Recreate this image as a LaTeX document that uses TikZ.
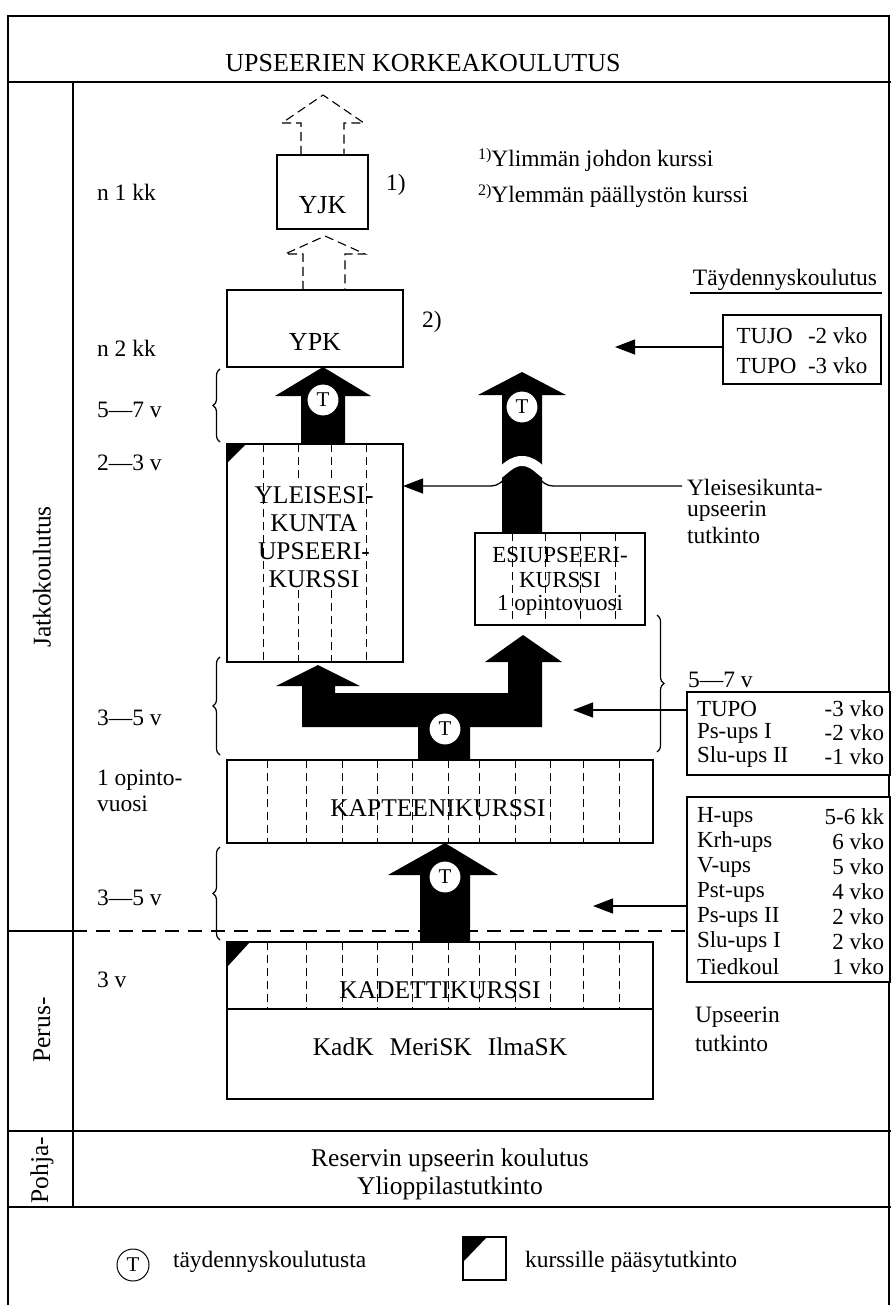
\documentclass[tikz,border=0pt]{standalone}
\usepackage{fontspec}
\setmainfont{Liberation Serif}
\usetikzlibrary{arrows.meta,decorations.pathreplacing}
\begin{document}
\begin{tikzpicture}[x=1pt,y=-1pt,
  every node/.style={inner sep=0pt, outer sep=0pt},
  txt/.style={font=\fontsize{25.5}{29}\selectfont},
  small/.style={font=\fontsize{23}{25}\selectfont},
  big/.style={font=\fontsize{26}{30}\selectfont},
  lbl/.style={font=\fontsize{23.5}{27}\selectfont, anchor=west},
  row/.style={font=\fontsize{23}{26}\selectfont, anchor=west},
  val/.style={font=\fontsize{23}{26}\selectfont, anchor=east},
  box/.style={draw, line width=1.3pt, fill=white},
  frame/.style={line width=1.3pt},
  dl/.style={dash pattern=on 8pt off 5pt, line width=1pt},
  dashedarrow/.style={dash pattern=on 9pt off 5pt, line width=1.1pt},
  fat/.style={fill=black},
  tc/.style={circle, draw, line width=1pt, fill=white, minimum size=32pt, font=\fontsize{21}{21}\selectfont},
  arr/.style={line width=1.3pt, -{Triangle[length=20pt,width=15pt]}},
  brc/.style={decorate, decoration={brace, amplitude=7pt}, line width=1.2pt},
  flag/.style={fill=black}
]
\useasboundingbox (0,0) rectangle (891,1305);

% frame
\draw[frame] (8,1305) -- (8,16) -- (889,16) -- (889,1305);
\draw[frame] (8,82) -- (891,82);
\draw[frame] (73,82) -- (73,1207);
\draw[frame] (8,931) -- (73,931);
\draw[frame] (8,1131) -- (891,1131);
\draw[frame] (8,1207) -- (891,1207);
\draw[dash pattern=on 14pt off 9pt, line width=1.4pt] (73,931) -- (687,931);

\node[big] (title) at (423,63) {UPSEERIEN KORKEAKOULUTUS};

% left column
\node[txt, rotate=90] (jk) at (42,577) {Jatkokoulutus};
\node[txt, rotate=90] (pe) at (42,1030) {Perus-};
\node[txt, rotate=90] (po) at (42,1170) {Pohja-};

\node[lbl] (l1) at (97,192) {n 1 kk};
\node[lbl] (l2) at (97,348) {n 2 kk};
\node[lbl] (l3) at (97,410) {5—7 v};
\node[lbl] (l4) at (97,463) {2—3 v};
\node[lbl] (l5) at (97,718) {3—5 v};
\node[lbl] (l6) at (97,780) {1 opinto-};
\node[lbl] (l7) at (97,804) {vuosi};
\node[lbl] (l8) at (97,898) {3—5 v};
\node[lbl] (l9) at (97,980) {3 v};

% braces
\draw[brc] (220,442) -- (220,369);
\draw[brc] (220,755) -- (220,657);
\draw[brc] (220,940) -- (220,847);
\draw[brc] (657,615) -- (657,752);

% footnotes
\node[lbl] (fn1) at (478,160) {\raisebox{7pt}{\fontsize{16}{16}\selectfont 1)}Ylimmän johdon kurssi};
\node[lbl] (fn2) at (478,196) {\raisebox{7pt}{\fontsize{16}{16}\selectfont 2)}Ylemmän päällystön kurssi};

% YJK
\node[box, minimum width=91pt, minimum height=74pt] (yjk) at (322.5,192) {};
\node[big] (yjkt) at (322.5,205) {YJK};
\node[lbl] (n1) at (386,185) {1)};
\draw[dashedarrow] (301,155) -- (301,123) -- (282,123) -- (323,95) -- (364,123) -- (344,123) -- (344,155);

% YPK
\node[box, minimum width=176pt, minimum height=77pt] (ypk) at (315,328.5) {};
\node[big] (ypkt) at (315,342) {YPK};
\node[lbl] (n2) at (422,322) {2)};
\draw[dashedarrow] (303,290) -- (303,254) -- (285,254) -- (325,236) -- (365,254) -- (345,254) -- (345,290);

% Taydennyskoulutus
\node[lbl, anchor=center] (tk) at (785,280) {Täydennyskoulutus};
\draw[line width=1.1pt] (690,293) -- (882,293);
\node[box, minimum width=158pt, minimum height=69pt] (tujo) at (802,349.5) {};
\node[font=\fontsize{23}{30}\selectfont] (tujot) at (802,352) {\begin{tabular}{@{}l@{\ \ }r@{}}TUJO & -2 vko\\ TUPO & -3 vko\end{tabular}};
\coordinate (a1) at (615,347);
\draw[arr] (a1 -| tujo.west) -- (a1);

% YLEISESIKUNTA box
\node[box, minimum width=176pt, minimum height=218pt] (ylei) at (315,553) {};
\draw[dl] (263,444) -- (263,662);
\draw[dl] (366,444) -- (366,662);
\draw[dl] (298,444) -- (298,478);
\draw[dl] (331,444) -- (331,478);
\draw[dl] (298,590) -- (298,662);
\draw[dl] (331,590) -- (331,662);
\fill[flag] (227,444) -- (246,444) -- (227,463) -- cycle;
\node[txt] (ylt1) at (314,495) {YLEISESI-};
\node[txt] (ylt2) at (314,523) {KUNTA};
\node[txt] (ylt3) at (314,551) {UPSEERI-};
\node[txt] (ylt4) at (314,579) {KURSSI};

% upper-left T arrow
\fill[fat] (301,444) -- (301,396) -- (275,396) -- (323,367) -- (371,396) -- (345,396) -- (345,444) -- cycle;
\node[tc] (t1) at (323,400) {T};

% ESIUPSEERI box
\node[box, minimum width=170pt, minimum height=92pt] (esi) at (560,579) {};
\draw[dl] (512,533) -- (512,625);
\draw[dl] (545,533) -- (545,625);
\draw[dl] (580,533) -- (580,625);
\draw[dl] (615,533) -- (615,625);
\node[small] (et1) at (560,555) {ESIUPSEERI-};
\node[small] (et2) at (560,580) {KURSSI};
\node[small] (et3) at (560,605) {1 opintovuosi};

% right T arrow with arch
\fill[fat] (502,533) -- (502,395) -- (478,395) -- (522,372) -- (566,395) -- (542,395) -- (542,533) -- cycle;
\node[tc] (t2) at (522,407) {T};
\draw[white, line width=10pt] (558,478) .. controls (542,478) and (538,461) .. (522,461) .. controls (506,461) and (502,478) .. (486,478);
\node[lbl] (yt1) at (687,487) {Yleisesikunta-};
\node[lbl] (yt2) at (687,511) {upseerin};
\node[lbl] (yt3) at (687,535) {tutkinto};
\coordinate (ya) at (682,486);
\draw[arr] (ya) -- (553,486) .. controls (540,486) and (537,470) .. (522,470) .. controls (507,470) and (504,486) .. (491,486) -- (ya -| ylei.east);

% 5-7 v right + TUPO box
\node[lbl] (r57) at (688,680) {5—7 v};
\node[box, minimum width=203pt, minimum height=83pt] (tupo) at (788.5,733.5) {};
\node[row] at (697,709) {TUPO};
\node[val] at (884,709) {-3 vko};
\node[row] at (697,733) {Ps-ups I};
\node[val] at (884,733) {-2 vko};
\node[row] at (697,757) {Slu-ups II};
\node[val] at (884,757) {-1 vko};
\coordinate (a2) at (573,710);
\draw[arr] (a2 -| tupo.west) -- (a2);

% big T-shaped arrow
\fill[fat] (418,760) -- (418,727) -- (302,727) -- (302,686) -- (276,686) -- (318,665) -- (360,686) -- (335,686) -- (335,693) -- (508,693) -- (508,662) -- (485,662) -- (523,635) -- (562,662) -- (542,662) -- (542,727) -- (470,727) -- (470,760) -- cycle;
\node[tc] (t3) at (445,729) {T};

% KAPTEENIKURSSI
\node[box, minimum width=426pt, minimum height=83pt] (kap) at (440,801.5) {};
\foreach \x in {267,306,342,377,412,448,479,515,550,583,619}
  \draw[dl] (\x,760) -- (\x,843);
\node[txt] (kapt) at (438,808) {KAPTEENIKURSSI};

% H-ups box
\node[box, minimum width=203pt, minimum height=185pt] (hups) at (788.5,889.5) {};
\node[row] at (697,817) {H-ups};     \node[val] at (884,817) {5-6 kk};
\node[row] at (697,842) {Krh-ups};   \node[val] at (884,842) {6 vko};
\node[row] at (697,867) {V-ups};     \node[val] at (884,867) {5 vko};
\node[row] at (697,892) {Pst-ups};   \node[val] at (884,892) {4 vko};
\node[row] at (697,917) {Ps-ups II}; \node[val] at (884,917) {2 vko};
\node[row] at (697,942) {Slu-ups I}; \node[val] at (884,942) {2 vko};
\node[row] at (697,967) {Tiedkoul};  \node[val] at (884,967) {1 vko};
\coordinate (a3) at (593,906);
\draw[arr] (a3 -| hups.west) -- (a3);

% KADETTIKURSSI
\node[box, minimum width=426pt, minimum height=157pt] (kad) at (440,1020.5) {};
\draw[line width=1.3pt] (kad.west |- 0,1009) -- (kad.east |- 0,1009);
\foreach \x in {267,306,342,377,412,448,479,515,550,583,619}
  \draw[dl] (\x,942) -- (\x,1009);
\fill[flag] (227,942) -- (250,942) -- (227,967) -- cycle;
\node[txt] (kadt) at (440,990) {KADETTIKURSSI};
\node[txt] (kadk) at (440,1047) {KadK\hspace{16pt}MeriSK\hspace{16pt}IlmaSK};
\node[lbl] (ut1) at (695,1017) {Upseerin};
\node[lbl] (ut2) at (695,1043) {tutkinto};

% lower T arrow
\fill[fat] (420,942) -- (420,875) -- (388,875) -- (445,843) -- (498,875) -- (470,875) -- (470,942) -- cycle;
\node[tc] (t4) at (445,877) {T};

% Pohja
\node[txt] (res) at (450,1160) {Reservin upseerin koulutus};
\node[txt] (yli) at (450,1188) {Ylioppilastutkinto};

% legend
\node[tc] (lt) at (133,1265) {T};
\node[lbl] (ltt) at (173,1262) {täydennyskoulutusta};
\node[box, minimum width=43pt, minimum height=43pt] (lf) at (484.5,1258.5) {};
\fill[flag] (463,1237) -- (487,1237) -- (463,1262) -- cycle;
\node[lbl] (lft) at (525,1262) {kurssille pääsytutkinto};
\end{tikzpicture}
\end{document}
